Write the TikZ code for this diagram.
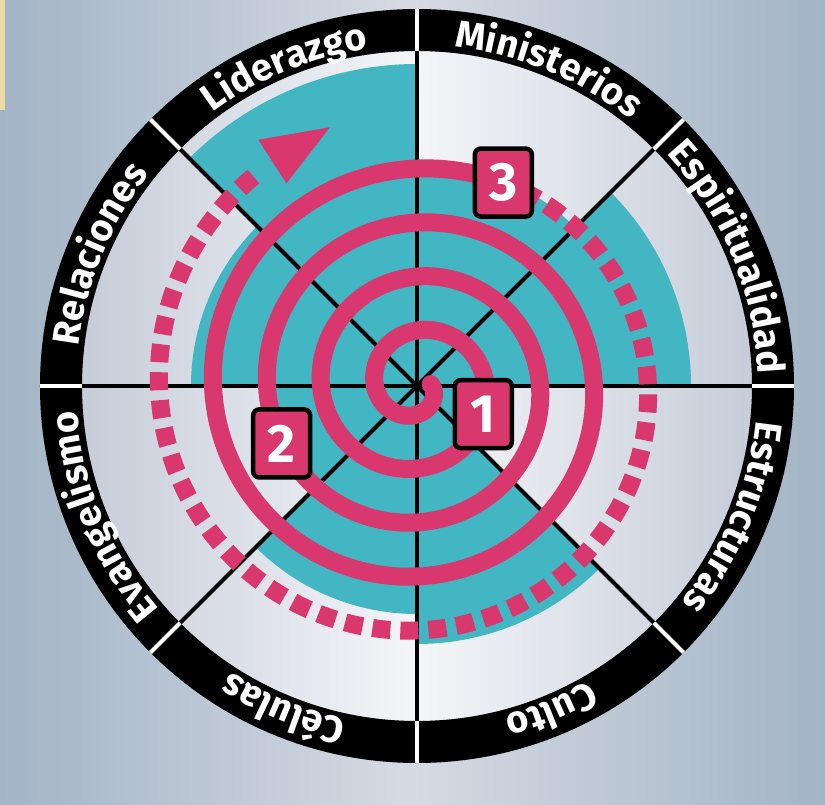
\documentclass[tikz,border=0pt]{standalone}
\usepackage{fontspec}
\newfontfamily\ringfont{Fira Sans}
\usetikzlibrary{decorations.text}
\definecolor{wheelpink}{HTML}{D8386D}
\definecolor{wheelteal}{HTML}{42B6C2}
\definecolor{platedark}{HTML}{A2B4C6}
\definecolor{platelight}{HTML}{D6DAE3}
\definecolor{discside}{HTML}{C6CDD9}
\definecolor{disclight}{HTML}{F4F5F8}
\definecolor{scanyellow}{HTML}{E9DC9E}
\newcommand\labelfont{\ringfont\bfseries\fontsize{38}{38}\selectfont}

\begin{document}
\begin{tikzpicture}[
  x=1pt, y=1pt,
  spoke/.style={line width=4pt, black},
  gapline/.style={line width=4pt, white},
  spiralline/.style={line width=18pt, wheelpink, line cap=round},
  dashline/.style={line width=18pt, wheelpink, dash pattern=on 18pt off 10pt},
  numbox/.style={draw=black, line width=4.5pt, fill=wheelpink, rounded corners=6pt,
    minimum width=57pt, minimum height=68pt, inner sep=0pt, text=white,
    font=\ringfont\bfseries\fontsize{54}{54}\selectfont},
  ringlabel/.style={decorate, decoration={text along path, text align=center,
    text color=white, text={|\labelfont|#1}}}
]
  \useasboundingbox (-417,-418) rectangle (408,386);
  % plate and disc
  \shade[left color=platedark, right color=platedark, middle color=platelight]
    (-417,-418) rectangle (408,386);
  \fill[scanyellow] (-417,386) rectangle (-412,276);
  \shade[left color=discside, right color=discside, middle color=disclight]
    (0,0) circle[radius=335];
  % teal wedges, one per sector
  \foreach \a/\r in {0/274, 45/224, 90/322, 135/226, 180/148, 225/228, 270/258, 315/80}
    \fill[wheelteal] (0,0) -- (\a:\r) arc[start angle=\a, end angle=\a+45, radius=\r] -- cycle;
  \foreach \a in {0,45,...,315}
    \draw[spoke] (0,0) -- (\a:335);
  % spiral: solid, then dashed, then the head
  \draw[spiralline] plot[domain=-8:1373, samples=420, smooth, variable=\s]
    ({-\s}:{15+0.15*\s});
  \draw[dashline] plot[domain=1672:1373, samples=120, smooth, variable=\s]
    ({-\s}:{15+0.15*\s});
  \fill[wheelpink] (122.8:241) -- (122.8:293) -- (108.6:273) -- cycle;
  \node[numbox] (one) at (-23:72) {1};
  \node[numbox] (two) at (-157:147) {2};
  \node[numbox] (three) at (67:221) {3};
  % outer ring
  \fill[black, even odd rule] (0,0) circle[radius=377] (0,0) circle[radius=335];
  \foreach \a in {0,45,...,315}
    \draw[gapline] (\a:335) -- (\a:377);
  \path[ringlabel=Ministerios] (90:341) arc[start angle=90, end angle=45, radius=341];
  \path[ringlabel=Espiritualidad] (45:341) arc[start angle=45, end angle=0, radius=341];
  \path[ringlabel=Estructuras] (0:341) arc[start angle=0, end angle=-45, radius=341];
  \path[ringlabel=Culto] (-45:341) arc[start angle=-45, end angle=-90, radius=341];
  \path[ringlabel=Células] (-90:341) arc[start angle=-90, end angle=-135, radius=341];
  \path[ringlabel=Evangelismo] (-135:341) arc[start angle=-135, end angle=-180, radius=341];
  \path[ringlabel=Relaciones] (180:341) arc[start angle=180, end angle=135, radius=341];
  \path[ringlabel=Liderazgo] (135:341) arc[start angle=135, end angle=90, radius=341];
\end{tikzpicture}
\end{document}
